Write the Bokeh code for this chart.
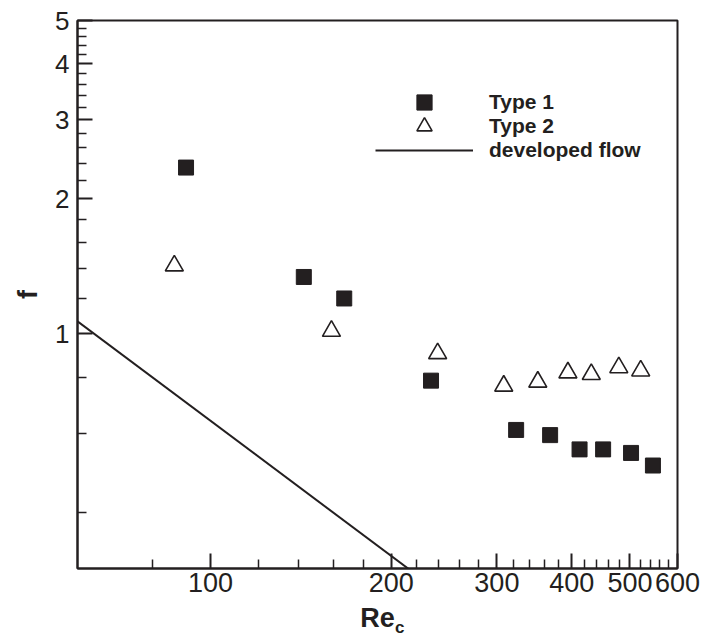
from bokeh.plotting import figure
from bokeh.models import (FixedTicker, PrintfTickFormatter, Legend, LegendItem,
                          Range1d)
from bokeh.embed import file_html
from bokeh.resources import INLINE

# ---- data ----
type1_re = [91, 143, 167, 233, 323, 368, 412, 451, 502, 546]
type1_f = [2.35, 1.34, 1.20, 0.787, 0.611, 0.595, 0.553, 0.553, 0.543, 0.509]
type2_re = [87, 159, 239, 308, 351, 394, 431, 479, 521]
type2_f = [1.42, 1.015, 0.905, 0.766, 0.782, 0.82, 0.813, 0.842, 0.828]
dev_re = [60, 600]
dev_f = [1.0667, 0.10667]

x_major = [100, 200, 300, 400, 500, 600]
x_minor = [80, 120, 140, 160, 180, 220, 240, 260, 280, 320, 340, 360, 380,
           420, 440, 460, 480, 520, 540, 560, 580]
y_major = [1, 2, 3, 4, 5]
y_minor = [0.4, 0.6, 0.8, 1.2, 1.4, 1.6, 1.8, 2.2, 2.4, 2.6, 2.8,
           3.2, 3.4, 3.6, 3.8, 4.2, 4.4, 4.6, 4.8]

INK = "#231f20"
FONT = "Liberation Sans"

p = figure(x_axis_type="log", y_axis_type="log",
           x_range=Range1d(60, 600), y_range=Range1d(0.3, 5),
           frame_width=600, frame_height=548,
           min_border_left=77, min_border_right=27,
           min_border_top=20, min_border_bottom=74,
           output_backend="svg", toolbar_location=None)
p.grid.visible = False
p.outline_line_color = INK
p.outline_line_width = 2
p.background_fill_color = "white"
p.border_fill_color = "white"

for ax, major, minor in ((p.xaxis[0], x_major, x_minor), (p.yaxis[0], y_major, y_minor)):
    ax.ticker = FixedTicker(ticks=major, minor_ticks=minor)
    ax.formatter = PrintfTickFormatter(format="%d")
    ax.major_tick_in = 15
    ax.major_tick_out = 0
    ax.minor_tick_in = 9
    ax.minor_tick_out = 0
    ax.major_tick_line_color = INK
    ax.minor_tick_line_color = INK
    ax.major_tick_line_width = 2
    ax.minor_tick_line_width = 1.5
    ax.axis_line_color = INK
    ax.axis_line_width = 2
    ax.major_label_text_font = FONT
    ax.major_label_text_color = INK
    ax.axis_label_text_font = FONT
    ax.axis_label_text_font_style = "bold"
    ax.axis_label_text_color = INK

p.xaxis.major_label_text_font_size = "27px"
p.xaxis.major_label_standoff = 4
p.xaxis.axis_label = "Re"
p.xaxis.axis_label_text_font_size = "27px"
p.xaxis.axis_label_standoff = 8

p.yaxis.major_label_text_font_size = "26px"
p.yaxis.major_label_standoff = 8
p.yaxis.axis_label = "f"
p.yaxis.axis_label_text_font_size = "27px"
p.yaxis.axis_label_standoff = 9

r_dev = p.line(dev_re, dev_f, line_color=INK, line_width=2)
r1 = p.scatter(type1_re, type1_f, marker="square", size=15,
               fill_color=INK, line_color=INK, line_width=1)
r2 = p.scatter(type2_re, type2_f, marker="triangle", size=18,
               fill_color="white", line_color=INK, line_width=1.6)

# legend: one single-row legend per entry so the sample markers keep their size
entries = [("Type 1", r1, 447), ("Type 2", r2, 423), ("developed flow", r_dev, 399)]
for label, rend, ybot in entries:
    lg = Legend(items=[LegendItem(label=label, renderers=[rend])],
                location=(298, ybot), glyph_width=98, glyph_height=38,
                label_height=38, spacing=0, padding=0, margin=0,
                label_standoff=16, label_text_font=FONT,
                label_text_font_style="bold", label_text_font_size="21px",
                label_text_color=INK, background_fill_alpha=0,
                border_line_alpha=0)
    p.add_layout(lg, "center")

# subscript "c" of the x-axis title Re_c: a glyph-less text block kept in the
# right-hand side panel (side panels are not clipped to the frame)
sub_anchor = p.line(x=[], y=[], line_alpha=0)
sub = Legend(items=[LegendItem(label="c", renderers=[sub_anchor])],
             location=(-282, -70), glyph_width=0, glyph_height=20,
             label_height=20, label_width=0, spacing=0, padding=0, margin=0,
             label_standoff=0, label_text_font=FONT,
             label_text_font_style="bold", label_text_font_size="17px",
             label_text_color=INK, background_fill_alpha=0,
             border_line_alpha=0)
p.add_layout(sub, "right")

open("out.html", "w").write(file_html(p, INLINE))
